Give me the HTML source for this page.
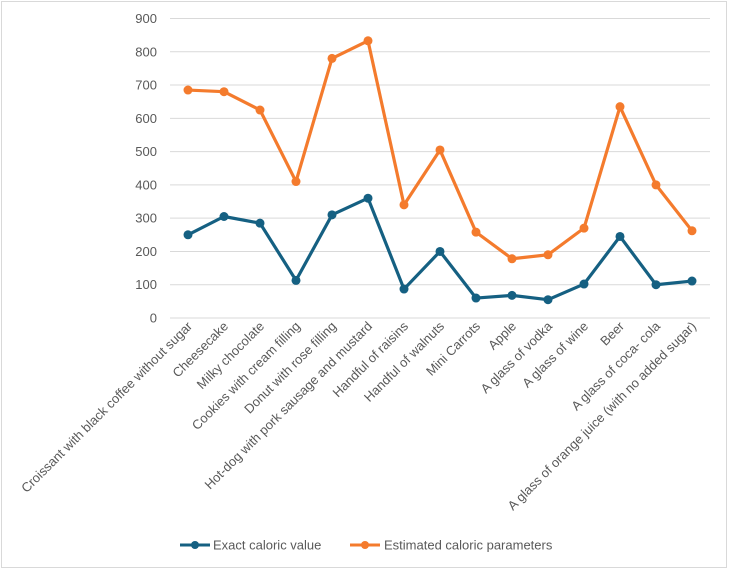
<!DOCTYPE html>
<html><head><meta charset="utf-8"><style>
body{margin:0;background:#fff;font-family:"Liberation Sans",sans-serif}
svg{display:block}
text{font-family:"Liberation Sans",sans-serif;fill:#595959;font-size:13px}
</style></head><body>
<svg id="chart" width="730" height="571">
<rect x="1.5" y="1.5" width="725" height="566" fill="#fff" stroke="#d9d9d9"/>
<g id="grid"></g><g id="xlabels"></g><g id="series"></g>
<g>
<g>
<line x1="180" y1="545" x2="210" y2="545" stroke="#156082" stroke-width="3"/><circle cx="195" cy="545" r="4" fill="#156082"/>
<text x="213" y="549.5">Exact caloric value</text></g>
<g>
<line x1="350" y1="545" x2="380" y2="545" stroke="#f47b2d" stroke-width="3"/><circle cx="365" cy="545" r="4" fill="#f47b2d"/>
<text x="384" y="549.5">Estimated caloric parameters</text></g>
</g>
</svg>
<script>
const categories=["Croissant with black coffee without sugar","Cheesecake","Milky chocolate","Cookies with cream filling","Donut with rose filling","Hot-dog with pork sausage and mustard","Handful of raisins","Handful of walnuts","Mini Carrots","Apple","A glass of vodka","A glass of wine","Beer","A glass of coca- cola","A glass of orange juice (with no added sugar)"];
const exactValues=[250,305,285,113,310,360,87,200,60,68,55,102,245,100,111];
const estimatedValues=[685,680,625,410,780,833,340,505,258,178,190,270,635,400,262];
const yTicks=[0,100,200,300,400,500,600,700,800,900];
const NS="http://www.w3.org/2000/svg";
const x0=170,W=540,y0=318,yTop=18.5,yMax=900;
const xs=i=>x0+W/categories.length*(i+0.5);
const ys=v=>y0-(v/yMax)*(y0-yTop);
function mk(t,a,p){const e=document.createElementNS(NS,t);for(const k in a)e.setAttribute(k,a[k]);p.appendChild(e);return e;}
const grid=document.getElementById('grid');
yTicks.forEach(v=>{
 const l=mk('line',{x1:x0,x2:x0+W,y1:ys(v),y2:ys(v),stroke:'#d9d9d9','stroke-width':1},grid);
 
 
 const t=mk('text',{x:x0-13,y:ys(v)+4.5,'text-anchor':'end'},grid);t.textContent=v;
 
 
});
const xl=document.getElementById('xlabels');
categories.forEach((c,i)=>{
 const x=xs(i)+5,y=y0+9;
 const t=mk('text',{x:x,y:y,'text-anchor':'end',transform:`rotate(-45 ${x} ${y})`},xl);t.textContent=c;
 
 
});
const sg=document.getElementById('series');
[[exactValues,'#156082','exact'],[estimatedValues,'#f47b2d','estimated']].forEach(([vals,col,nm])=>{
 const g=mk('g',{},sg);
 
 
 const p=mk('polyline',{points:vals.map((v,i)=>xs(i)+','+ys(v)).join(' '),fill:'none',stroke:col,'stroke-width':3.2,'stroke-linejoin':'round'},g);
 
 
 vals.forEach((v,i)=>{const c=mk('circle',{cx:xs(i),cy:ys(v),r:4.5,fill:col},g);
  
  });
});
</script>
</body></html>
